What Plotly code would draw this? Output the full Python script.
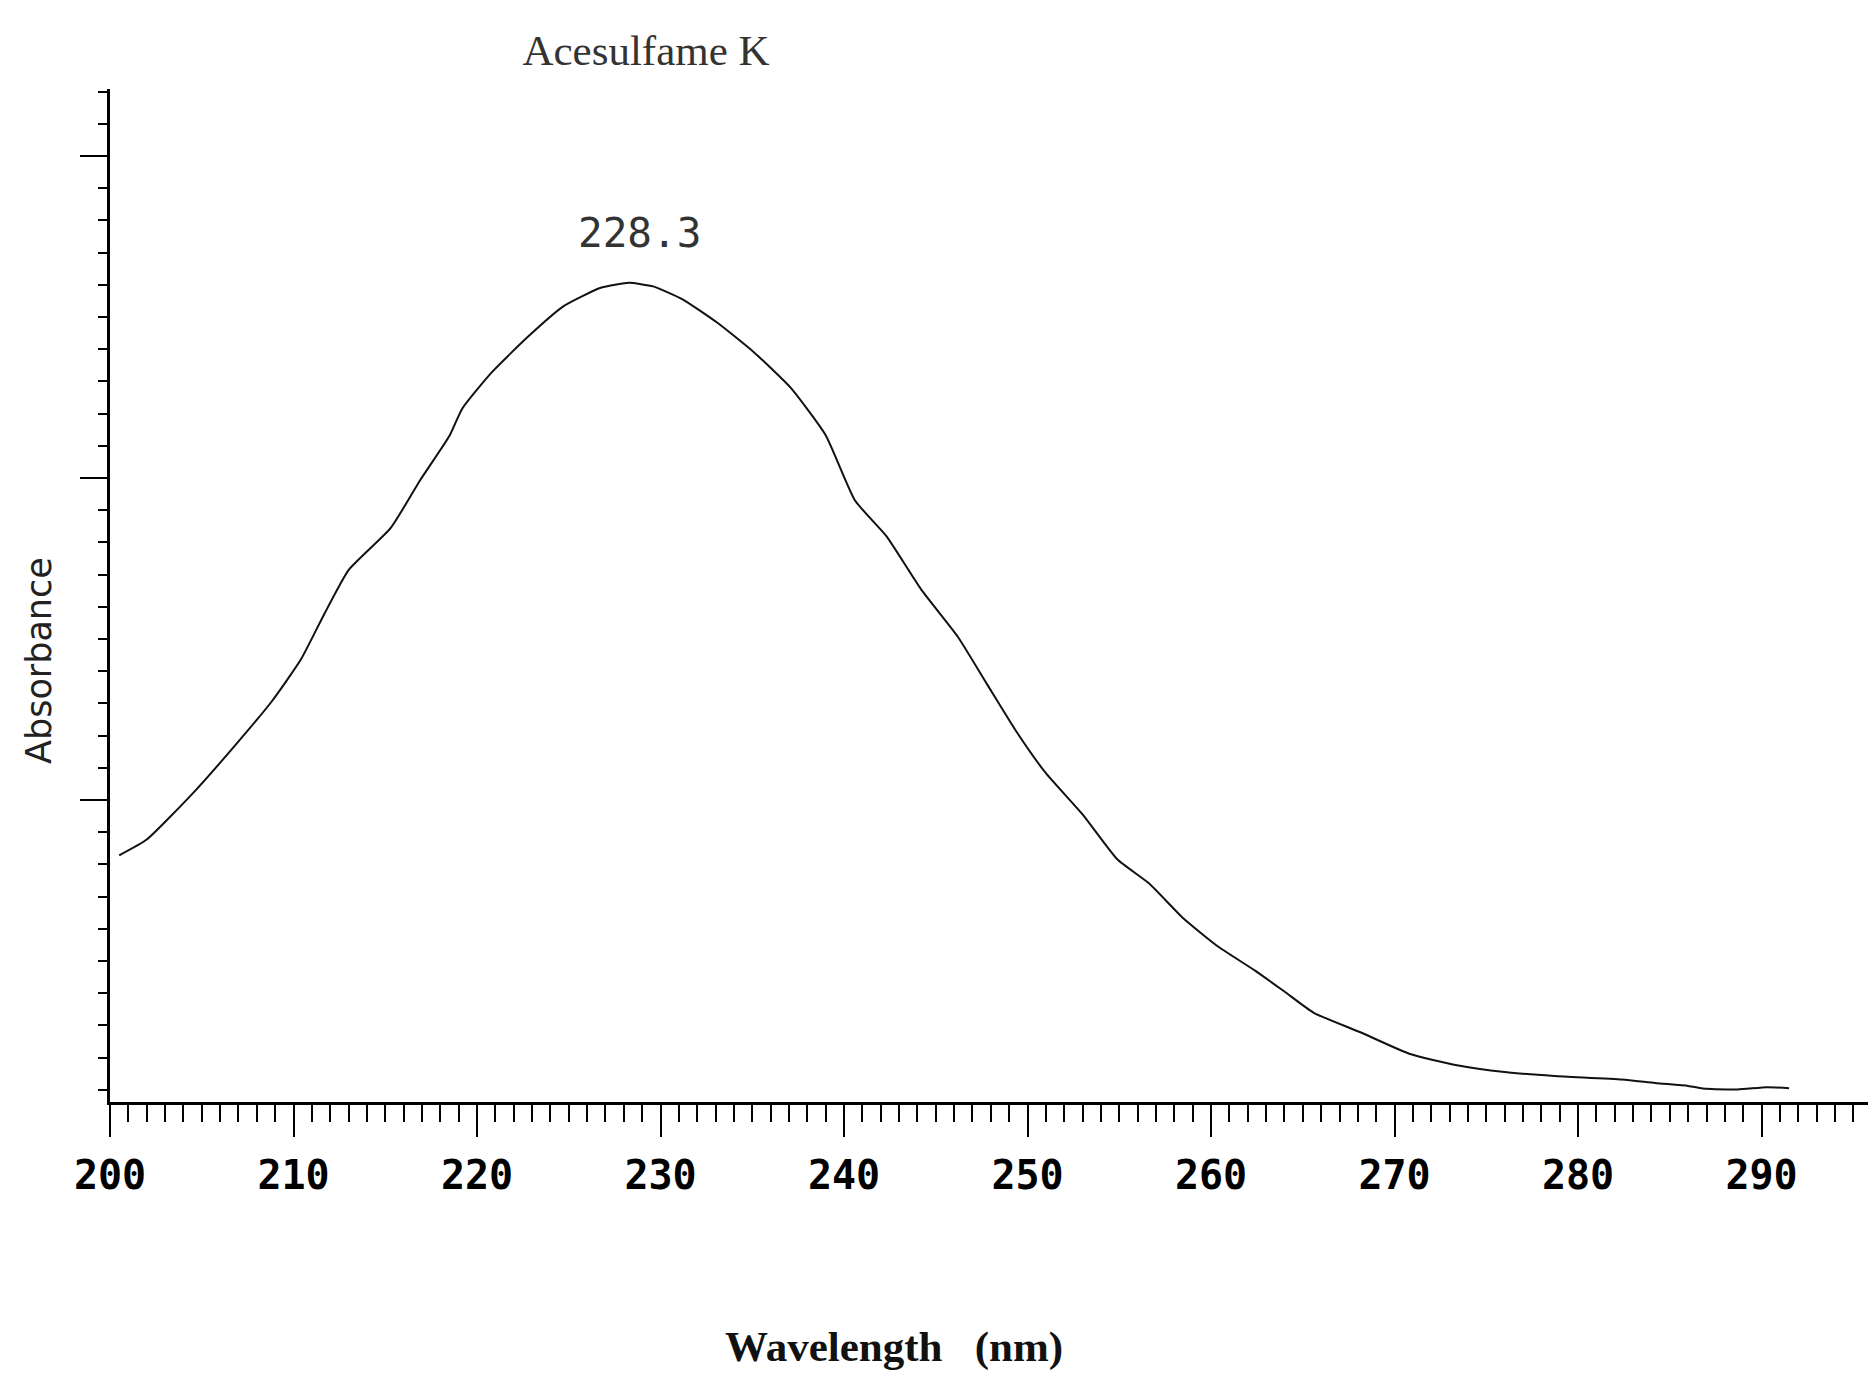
import plotly.graph_objects as go

# ---- data ----
wavelength = [200.5, 202.0, 204.6, 206.9, 208.8, 210.4, 211.7, 213.0, 215.3, 216.9,
              218.5, 219.2, 220.8, 222.8, 224.7, 226.7, 227.6, 228.3, 229.6, 231.2,
              233.1, 235.1, 237.1, 239.0, 240.6, 242.3, 244.2, 246.2, 247.8, 249.4,
              251.0, 253.0, 254.9, 256.6, 258.5, 260.4, 262.4, 264.0, 265.6, 268.2,
              270.8, 273.4, 276.0, 278.7, 282.4, 284.2, 286.0, 287.0, 288.7, 290.3,
              291.5]
absorbance = [0.828, 0.877, 1.026, 1.175, 1.305, 1.436, 1.580, 1.714, 1.845, 1.993,
              2.131, 2.216, 2.328, 2.440, 2.533, 2.590, 2.601, 2.606, 2.595, 2.555,
              2.482, 2.390, 2.280, 2.133, 1.930, 1.820, 1.654, 1.507, 1.359, 1.212,
              1.083, 0.955, 0.815, 0.742, 0.632, 0.544, 0.470, 0.405, 0.339, 0.277,
              0.212, 0.176, 0.155, 0.143, 0.132, 0.121, 0.112, 0.103, 0.101, 0.108,
              0.105]
x_tick_values = [200, 210, 220, 230, 240, 250, 260, 270, 280, 290]
x_tick_labels = ["200", "210", "220", "230", "240", "250", "260", "270", "280", "290"]
peak_wavelength = 228.3
peak_absorbance = 2.606
peak_label = "228.3"
title_text = "Acesulfame K"
y_title = "Absorbance"
x_title = "Wavelength   (nm)"

W, H = 1868, 1380
L, R, T, B = 110, 0, 89, 278

fig = go.Figure()
fig.add_trace(go.Scatter(
    x=wavelength, y=absorbance, mode="lines",
    line=dict(color="#111111", width=2, shape="spline", smoothing=0.5),
    hoverinfo="skip", showlegend=False,
))

fig.add_annotation(
    x=peak_wavelength, y=peak_absorbance, text=peak_label, showarrow=False,
    xshift=10, yshift=50, xanchor="center", yanchor="middle",
    font=dict(family="DejaVu Sans Mono", size=41, color="#333333"),
)
fig.add_annotation(
    text=y_title, showarrow=False, textangle=-90,
    xref="paper", yref="paper", x=-0.040, y=0.436,
    xanchor="center", yanchor="middle",
    font=dict(family="DejaVu Sans", size=35, color="#222222"),
)
fig.add_annotation(
    text=x_title, showarrow=False,
    xref="paper", yref="paper", x=0.446, y=-0.242,
    xanchor="center", yanchor="middle",
    font=dict(family="Liberation Serif", size=43, color="#111111", weight="bold"),
)

fig.update_layout(
    width=W, height=H,
    margin=dict(l=L, r=R, t=T, b=B),
    paper_bgcolor="white", plot_bgcolor="white",
    title=dict(text=title_text, xref="container", yref="container",
               x=646 / W, y=1 - 50 / H, xanchor="center", yanchor="middle",
               font=dict(family="Liberation Serif", size=43, color="#333333")),
    xaxis=dict(
        range=[200, 295.8], showgrid=False, zeroline=False,
        showline=True, linecolor="black", linewidth=3,
        tickmode="array", tickvals=x_tick_values, ticktext=x_tick_labels,
        ticks="outside", ticklen=32, tickwidth=2, tickcolor="black",
        minor=dict(dtick=1, tick0=200, ticks="outside", ticklen=17,
                   tickwidth=2, tickcolor="black", showgrid=False),
        tickfont=dict(family="DejaVu Sans Mono", size=40, color="black", weight="bold"),
        ticklabelstandoff=4,
    ),
    yaxis=dict(
        range=[0.062, 3.208], showgrid=False, zeroline=False,
        showline=True, linecolor="black", linewidth=3,
        tickmode="linear", tick0=0, dtick=1,
        ticks="outside", ticklen=27, tickwidth=2, tickcolor="black",
        minor=dict(dtick=0.1, tick0=0, ticks="outside", ticklen=9,
                   tickwidth=2, tickcolor="black", showgrid=False),
        showticklabels=False,
    ),
)

fig.write_html("out.html")
